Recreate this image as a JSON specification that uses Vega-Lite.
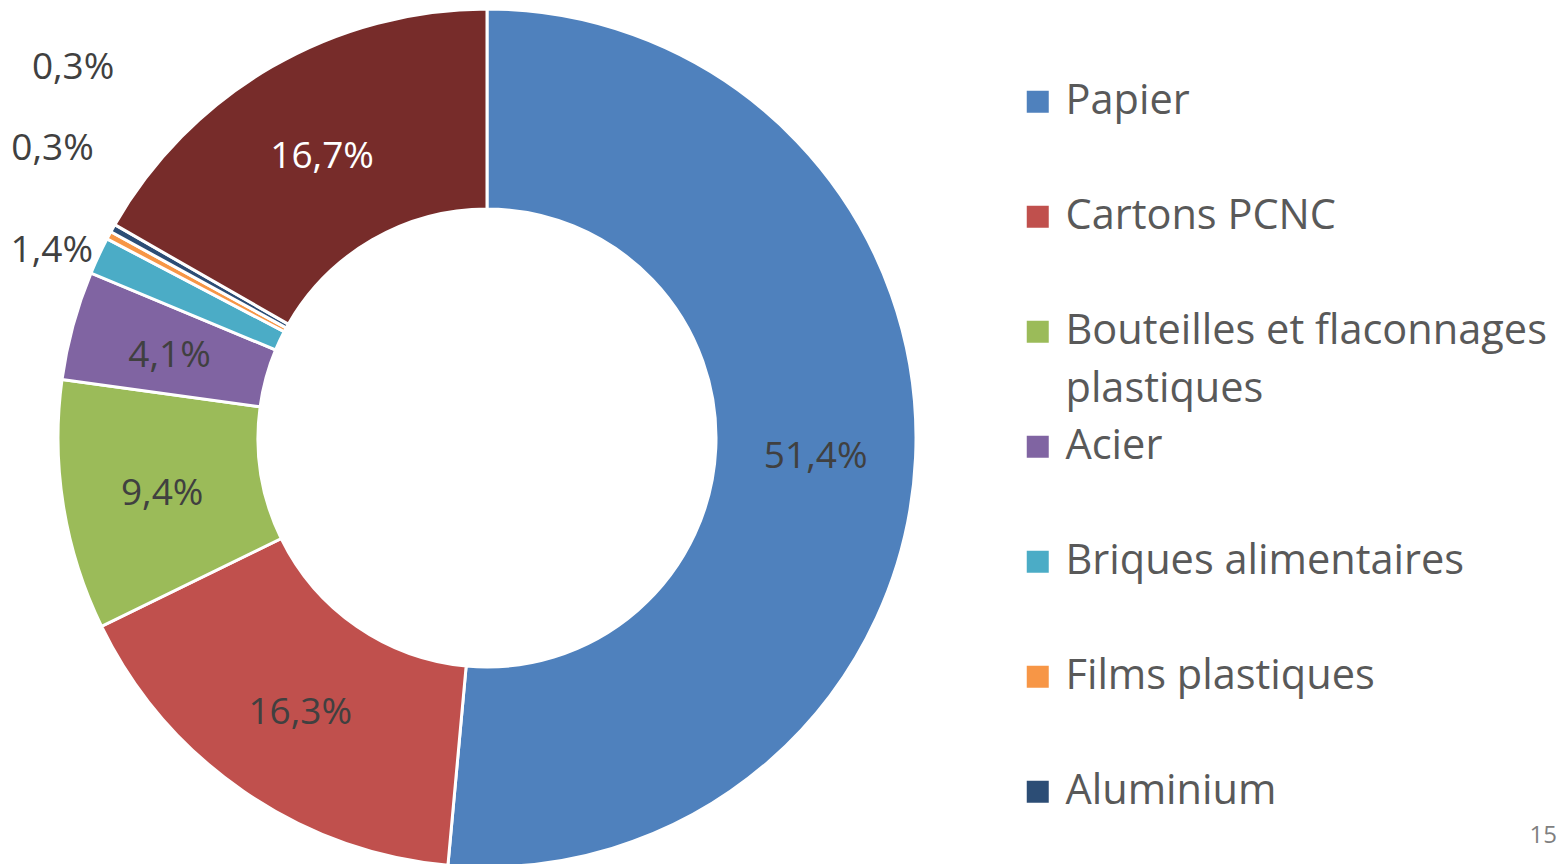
{
  "$schema": "https://vega.github.io/schema/vega-lite/v6.json",
  "width": 974,
  "height": 876,
  "padding": {"left": 0, "top": 0, "right": 584, "bottom": 0},
  "autosize": {"type": "none"},
  "background": "white",
  "config": {"view": {"stroke": null}, "font": "Open Sans", "style": {"guide-label": {"lineHeight": 58}}},
  "title": {"text": "15", "orient": "bottom", "anchor": "end", "frame": "bounds", "offset": -52, "dx": 10, "fontSize": 24, "fontWeight": "normal", "color": "#7f7f7f", "font": "Open Sans"},
  "data": {
    "values": [
      {"categorie": "Papier", "valeur": 51.4, "etiquette": "51,4%", "ordre": 1},
      {"categorie": "Cartons PCNC", "valeur": 16.3, "etiquette": "16,3%", "ordre": 2},
      {"categorie": "Bouteilles et flaconnages plastiques", "valeur": 9.4, "etiquette": "9,4%", "ordre": 3},
      {"categorie": "Acier", "valeur": 4.1, "etiquette": "4,1%", "ordre": 4},
      {"categorie": "Briques alimentaires", "valeur": 1.4, "etiquette": "1,4%", "ordre": 5},
      {"categorie": "Films plastiques", "valeur": 0.3, "etiquette": "0,3%", "ordre": 6},
      {"categorie": "Aluminium", "valeur": 0.3, "etiquette": "0,3%", "ordre": 7},
      {"categorie": "Verre", "valeur": 16.7, "etiquette": "16,7%", "ordre": 8}
    ]
  },
  "encoding": {
    "theta": {"field": "valeur", "type": "quantitative", "stack": true},
    "order": {"field": "ordre", "type": "quantitative"},
    "detail": {"field": "categorie", "type": "nominal"}
  },
  "layer": [
    {
      "mark": {"type": "arc", "innerRadius": 229, "outerRadius": 429, "stroke": "white", "strokeWidth": 3},
      "encoding": {
        "color": {
          "field": "categorie",
          "type": "nominal",
          "scale": {
            "domain": ["Papier", "Cartons PCNC", "Bouteilles et flaconnages plastiques", "Acier", "Briques alimentaires", "Films plastiques", "Aluminium", "Verre"],
            "range": ["#4F81BD", "#C0504D", "#9BBB59", "#8064A2", "#4BACC6", "#F79646", "#2C4D75", "#772C2A"]
          },
          "legend": {
            "title": null,
            "orient": "none",
            "legendX": 1017,
            "legendY": 81,
            "values": ["Papier", "Cartons PCNC", "Bouteilles et flaconnages plastiques", "Acier", "Briques alimentaires", "Films plastiques", "Aluminium"],
            "symbolType": "square",
            "symbolSize": 484,
            "symbolStrokeWidth": 0,
            "labelFont": "Open Sans",
            "labelFontSize": 41.5,
            "labelColor": "#595959",
            "labelOffset": 7,
            "labelLimit": 0,
            "gridAlign": "all",
            "rowPadding": 14,
            "labelExpr": "datum.label == 'Bouteilles et flaconnages plastiques' ? ['Bouteilles et flaconnages', 'plastiques'] : datum.label"
          }
        }
      }
    },
    {
      "mark": {"type": "text", "radius": 329, "dy": 4, "fontSize": 37, "font": "Open Sans"},
      "encoding": {
        "text": {"condition": {"test": "datum.valeur >= 4", "field": "etiquette"}, "value": ""},
        "color": {"condition": {"test": "datum.categorie === 'Verre'", "value": "white"}, "value": "#404040"}
      }
    },
    {
      "mark": {"type": "text", "radius": 473, "dx": -7, "dy": 14, "fontSize": 37, "font": "Open Sans", "color": "#404040"},
      "encoding": {
        "text": {"condition": {"test": "datum.categorie === 'Briques alimentaires'", "field": "etiquette"}, "value": ""}
      }
    },
    {
      "mark": {"type": "text", "radius": 519, "dx": 23, "dy": -44, "fontSize": 37, "font": "Open Sans", "color": "#404040"},
      "encoding": {
        "text": {"condition": {"test": "datum.categorie === 'Films plastiques'", "field": "etiquette"}, "value": ""}
      }
    },
    {
      "mark": {"type": "text", "radius": 541, "dx": 58, "dy": -105, "fontSize": 37, "font": "Open Sans", "color": "#404040"},
      "encoding": {
        "text": {"condition": {"test": "datum.categorie === 'Aluminium'", "field": "etiquette"}, "value": ""}
      }
    }
  ]
}
